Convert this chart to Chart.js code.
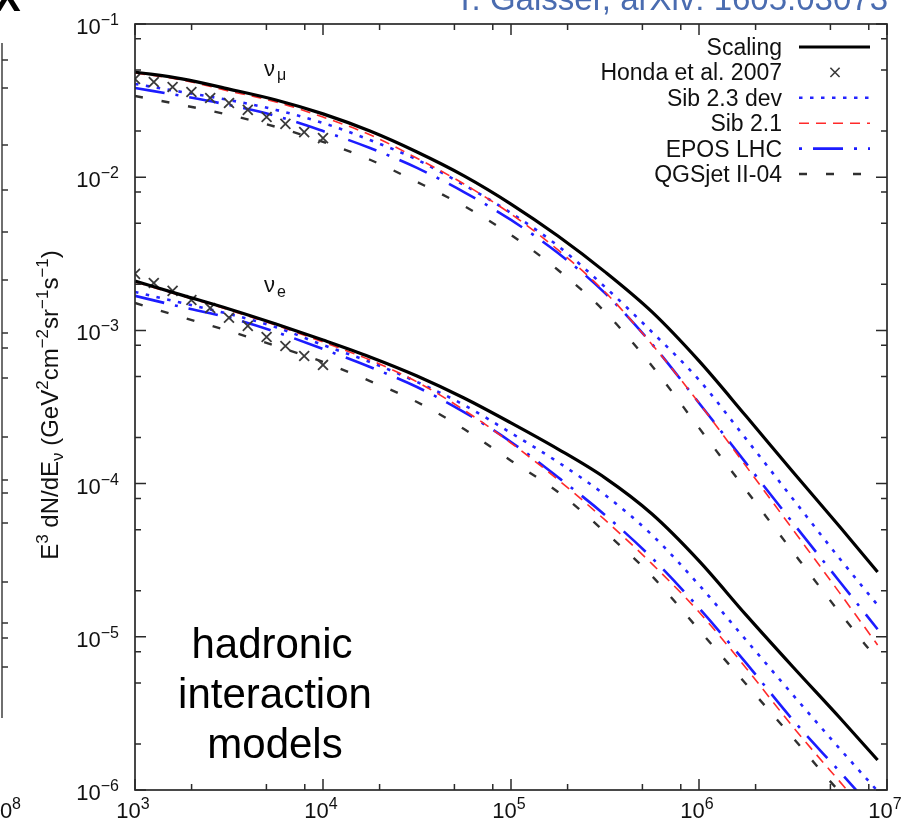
<!DOCTYPE html>
<html>
<head>
<meta charset="utf-8">
<script src="https://cdn.jsdelivr.net/npm/chart.js@4.4.1/dist/chart.umd.min.js"></script>
<style>
html,body{margin:0;padding:0;background:#fff;}
#wrap{width:902px;height:826px;position:relative;}
</style>
</head>
<body>
<div id="wrap"><canvas id="c" width="902" height="826"></canvas></div>
<script>
// ---------- data ----------
const energies = [1000, 1778, 3162, 5623, 10000, 17783, 31623, 56234, 100000, 177828, 316228, 562341, 1000000, 1778279, 3162278, 5623413, 8912509];
const hondaEnergies = [1000, 1259, 1585, 1995, 2512, 3162, 3981, 5012, 6310, 7943, 10000];

const numuScaling = [0.0486, 0.0438, 0.0376, 0.0319, 0.0259, 0.0200, 0.0146, 0.0102, 0.00668, 0.00413, 0.00241, 0.00132, 6.32e-4, 2.76e-4, 1.19e-4, 5.21e-5, 2.65e-5];
const numuSib23   = [0.0406, 0.0360, 0.0319, 0.0275, 0.0226, 0.0175, 0.0130, 0.00889, 0.00584, 0.00356, 0.00192, 9.76e-4, 4.75e-4, 1.96e-4, 7.93e-5, 3.22e-5, 1.61e-5];
const numuSib21   = [0.0479, 0.0431, 0.0365, 0.0310, 0.0247, 0.0189, 0.0133, 0.00903, 0.00575, 0.00335, 0.00178, 8.10e-4, 3.36e-4, 1.30e-4, 5.00e-5, 1.92e-5, 8.84e-6];
const numuEpos    = [0.0382, 0.0339, 0.0296, 0.0251, 0.0200, 0.0155, 0.0115, 0.00800, 0.00526, 0.00320, 0.00175, 8.15e-4, 3.36e-4, 1.36e-4, 5.53e-5, 2.28e-5, 1.12e-5];
const numuQgs     = [0.0339, 0.0296, 0.0255, 0.0213, 0.0170, 0.0130, 0.00931, 0.00649, 0.00420, 0.00248, 0.00132, 5.86e-4, 2.31e-4, 9.08e-5, 3.58e-5, 1.43e-5, 7.06e-6];

const nueScaling = [0.00210, 0.00170, 0.00138, 0.00110, 8.65e-4, 6.71e-4, 5.04e-4, 3.62e-4, 2.49e-4, 1.68e-4, 1.09e-4, 6.33e-5, 3.13e-5, 1.39e-5, 6.35e-6, 2.95e-6, 1.57e-6];
const nueSib23   = [0.00178, 0.00151, 0.00128, 0.00105, 8.03e-4, 6.22e-4, 4.61e-4, 3.26e-4, 2.14e-4, 1.38e-4, 8.43e-5, 4.62e-5, 2.18e-5, 9.53e-6, 4.17e-6, 1.85e-6, 9.84e-7];
const nueSib21   = [0.00207, 0.00168, 0.00136, 0.00108, 8.40e-4, 6.41e-4, 4.61e-4, 3.02e-4, 1.84e-4, 1.06e-4, 5.79e-5, 2.99e-5, 1.45e-5, 6.26e-6, 2.58e-6, 1.13e-6, 5.91e-7];
const nueEpos    = [0.00168, 0.00142, 0.00121, 9.76e-4, 7.56e-4, 5.77e-4, 4.27e-4, 2.93e-4, 1.87e-4, 1.10e-4, 6.24e-5, 3.27e-5, 1.54e-5, 6.75e-6, 2.86e-6, 1.31e-6, 6.97e-7];
const nueQgs     = [0.00151, 0.00122, 9.91e-4, 7.91e-4, 6.22e-4, 4.67e-4, 3.41e-4, 2.27e-4, 1.41e-4, 8.82e-5, 4.83e-5, 2.49e-5, 1.11e-5, 4.92e-6, 2.19e-6, 9.70e-7, 5.71e-7];

const hondaNumu = [0.0438, 0.0418, 0.0388, 0.0360, 0.0329, 0.0305, 0.0275, 0.0247, 0.0223, 0.0197, 0.0180];
const hondaNue  = [0.00234, 0.00204, 0.00181, 0.00158, 0.00140, 0.00121, 0.00107, 9.06e-4, 7.91e-4, 6.81e-4, 5.95e-4];

const seriesLabels = ['Scaling', 'Honda et al. 2007', 'Sib 2.3 dev', 'Sib 2.1', 'EPOS LHC', 'QGSjet II-04'];
const xTickExponents = [3, 4, 5, 6, 7];
const yTickExponents = [-1, -2, -3, -4, -5, -6];
const minorMultipliers = [2, 5, 8];

// ---------- styles ----------
const FONT = '"Liberation Sans", Arial, Helvetica, sans-serif';
const styles = {
  'Scaling':      {borderColor: '#000000', borderWidth: 3.2, borderDash: []},
  'Sib 2.3 dev':  {borderColor: '#2424ff', borderWidth: 2.6, borderDash: [3.5, 7.5]},
  'Sib 2.1':      {borderColor: '#ff2a2a', borderWidth: 1.6, borderDash: [10, 7]},
  'EPOS LHC':     {borderColor: '#1c1cff', borderWidth: 2.6, borderDash: [30, 11, 3, 11]},
  'QGSjet II-04': {borderColor: '#303030', borderWidth: 2.4, borderDash: [8, 19]}
};

function pts(xs, ys) { return xs.map((x, i) => ({x: x, y: ys[i]})); }
function lineDs(label, ys, group) {
  const s = styles[label];
  return Object.assign({
    label: label, group: group, data: pts(energies, ys),
    pointRadius: 0, fill: false, cubicInterpolationMode: 'monotone', clip: 0
  }, s);
}
function hondaDs(ys, group) {
  return {label: 'Honda et al. 2007', group: group, data: pts(hondaEnergies, ys), showLine: false,
    pointStyle: 'crossRot', pointRadius: 7, pointBorderWidth: 1.8, borderColor: '#3a3a3a',
    backgroundColor: '#3a3a3a', clip: 0};
}

const datasets = [
  lineDs('Scaling', numuScaling, 'mu'),
  lineDs('Scaling', nueScaling, 'e'),
  hondaDs(hondaNumu, 'mu'),
  hondaDs(hondaNue, 'e'),
  lineDs('Sib 2.1', numuSib21, 'mu'),
  lineDs('Sib 2.1', nueSib21, 'e'),
  lineDs('Sib 2.3 dev', numuSib23, 'mu'),
  lineDs('Sib 2.3 dev', nueSib23, 'e'),
  lineDs('EPOS LHC', numuEpos, 'mu'),
  lineDs('EPOS LHC', nueEpos, 'e'),
  lineDs('QGSjet II-04', numuQgs, 'mu'),
  lineDs('QGSjet II-04', nueQgs, 'e')
];

function expText(e) { return String(e).replace('-', '\u2212'); }

function drawPow(ctx, exp, x, y, align, big, small, raise) {
  ctx.font = big + 'px ' + FONT;
  const w1 = ctx.measureText('10').width;
  ctx.font = small + 'px ' + FONT;
  const t = expText(exp);
  const w2 = ctx.measureText(t).width;
  let x0 = x;
  if (align === 'center') x0 = x - (w1 + w2) / 2;
  else if (align === 'right') x0 = x - (w1 + w2);
  ctx.textAlign = 'left';
  ctx.textBaseline = 'alphabetic';
  ctx.font = big + 'px ' + FONT;
  ctx.fillText('10', x0, y);
  ctx.font = small + 'px ' + FONT;
  ctx.fillText(t, x0 + w1, y - raise);
}

function drawRich(ctx, segs, x, y, size, align) {
  const fs = k => (k === 'n' ? size : Math.round(size * 0.72));
  const off = k => (k === 'sup' ? -size * 0.42 : (k === 'sub' ? size * 0.22 : 0));
  let total = 0;
  segs.forEach(s => { ctx.font = fs(s[1]) + 'px ' + FONT; total += ctx.measureText(s[0]).width; });
  let cx = align === 'center' ? x - total / 2 : x;
  ctx.textAlign = 'left'; ctx.textBaseline = 'alphabetic';
  segs.forEach(s => {
    ctx.font = fs(s[1]) + 'px ' + FONT;
    ctx.fillText(s[0], cx, y + off(s[1]));
    cx += ctx.measureText(s[0]).width;
  });
}

const decorPlugin = {
  id: 'decor',
  afterDraw(chart) {
    const ctx = chart.ctx, a = chart.chartArea, xs = chart.scales.x, ys = chart.scales.y;
    ctx.save();
    // frame
    ctx.strokeStyle = '#2a2a2a'; ctx.lineWidth = 1.7; ctx.setLineDash([]);
    ctx.strokeRect(a.left, a.top, a.right - a.left, a.bottom - a.top);
    // ticks
    ctx.lineWidth = 1.5;
    const MAJ = 11, MIN = 6;
    ctx.beginPath();
    xTickExponents.forEach(e => {
      const px = xs.getPixelForValue(Math.pow(10, e));
      ctx.moveTo(px, a.bottom); ctx.lineTo(px, a.bottom - MAJ);
      ctx.moveTo(px, a.top); ctx.lineTo(px, a.top + MAJ);
      if (e < 7) minorMultipliers.forEach(m => {
        const p = xs.getPixelForValue(m * Math.pow(10, e));
        ctx.moveTo(p, a.bottom); ctx.lineTo(p, a.bottom - MIN);
        ctx.moveTo(p, a.top); ctx.lineTo(p, a.top + MIN);
      });
    });
    yTickExponents.forEach(e => {
      const py = ys.getPixelForValue(Math.pow(10, e));
      ctx.moveTo(a.left, py); ctx.lineTo(a.left + MAJ, py);
      ctx.moveTo(a.right, py); ctx.lineTo(a.right - MAJ, py);
      if (e > -6) minorMultipliers.forEach(m => {
        const p = ys.getPixelForValue(m * Math.pow(10, e - 1));
        ctx.moveTo(a.left, p); ctx.lineTo(a.left + MIN, p);
        ctx.moveTo(a.right, p); ctx.lineTo(a.right - MIN, p);
      });
    });
    ctx.stroke();

    // tick labels
    ctx.fillStyle = '#111';
    xTickExponents.forEach(e => {
      const px = xs.getPixelForValue(Math.pow(10, e));
      drawPow(ctx, e, px - 2, 818, 'center', 22, 16, 9);
    });
    yTickExponents.forEach(e => {
      const py = ys.getPixelForValue(Math.pow(10, e));
      drawPow(ctx, e, 119, py + 10, 'right', 22, 16, 9);
    });

    // y axis title (rotated)
    ctx.save();
    ctx.translate(58, 405);
    ctx.rotate(-Math.PI / 2);
    ctx.fillStyle = '#111';
    drawRich(ctx, [['E','n'],['3','sup'],[' dN/dE','n'],['\u03BD','sub'],[' (GeV','n'],['2','sup'],['cm','n'],['\u22122','sup'],['sr','n'],['\u22121','sup'],['s','n'],['\u22121','sup'],[')','n']], 0, 0, 24, 'center');
    ctx.restore();

    // nu labels
    ctx.fillStyle = '#111';
    ctx.textAlign = 'left'; ctx.textBaseline = 'alphabetic';
    ctx.font = '22px ' + FONT; ctx.fillText('\u03BD', 264, 76);
    ctx.font = '16px ' + FONT; ctx.fillText('\u03BC', 277, 80);
    ctx.font = '22px ' + FONT; ctx.fillText('\u03BD', 264, 292);
    ctx.font = '16px ' + FONT; ctx.fillText('e', 277, 297);

    // big annotation
    ctx.fillStyle = '#000';
    ctx.font = '42px ' + FONT; ctx.textAlign = 'center';
    ctx.fillText('hadronic', 272, 658);
    ctx.fillText('interaction', 275, 708);
    ctx.fillText('models', 275, 758);

    // legend (inside, top right)
    seriesLabels.forEach((lab, i) => {
      const y = 47 + i * 25.4;
      ctx.fillStyle = '#111';
      ctx.font = '23px ' + FONT; ctx.textAlign = 'right';
      ctx.fillText(lab, 782, y + 8);
      if (lab === 'Honda et al. 2007') {
        ctx.strokeStyle = '#3a3a3a'; ctx.lineWidth = 1.6; ctx.setLineDash([]);
        const c = 835, d = 4.6;
        ctx.beginPath();
        ctx.moveTo(c - d, y - d); ctx.lineTo(c + d, y + d);
        ctx.moveTo(c + d, y - d); ctx.lineTo(c - d, y + d);
        ctx.stroke();
      } else {
        const s = styles[lab];
        ctx.strokeStyle = s.borderColor; ctx.lineWidth = s.borderWidth;
        ctx.setLineDash(lab === 'EPOS LHC' ? [3, 11, 30, 11] : s.borderDash);
        ctx.beginPath(); ctx.moveTo(799, y); ctx.lineTo(870, y); ctx.stroke();
      }
    });
    ctx.setLineDash([]);

    // cropped neighbouring content (edges of the source figure)
    ctx.fillStyle = '#4a6cb0';
    ctx.font = '33px ' + FONT; ctx.textAlign = 'right';
    ctx.fillText('T. Gaisser, arXiv: 1605.03073', 888, 10);
    ctx.fillStyle = '#000';
    ctx.font = 'bold 40px ' + FONT; ctx.textAlign = 'left';
    ctx.fillText('X', -6, 11);
    ctx.strokeStyle = '#333'; ctx.lineWidth = 1.4;
    ctx.beginPath();
    ctx.moveTo(2, 43); ctx.lineTo(2, 718);
    [60, 88, 145, 190, 232, 280, 333, 348, 378, 437, 480, 493, 523, 582, 623, 638, 667].forEach(t => {
      ctx.moveTo(2, t); ctx.lineTo(8, t);
    });
    ctx.stroke();
    ctx.fillStyle = '#111';
    ctx.font = '22px ' + FONT; ctx.textAlign = 'left';
    ctx.fillText('0', 0, 818);
    ctx.font = '16px ' + FONT; ctx.fillText('8', 12, 809);
    ctx.restore();
  }
};

new Chart(document.getElementById('c'), {
  type: 'line',
  data: {datasets: datasets},
  options: {
    responsive: false,
    animation: false,
    devicePixelRatio: 1,
    layout: {padding: {left: 135, right: 15, top: 24, bottom: 36}},
    scales: {
      x: {type: 'logarithmic', min: 1000, max: 1e7, display: false},
      y: {type: 'logarithmic', min: 1e-6, max: 1e-1, display: false}
    },
    plugins: {legend: {display: false}, tooltip: {enabled: false}},
    elements: {line: {borderCapStyle: 'butt'}}
  },
  plugins: [decorPlugin]
});
</script>
</body>
</html>
